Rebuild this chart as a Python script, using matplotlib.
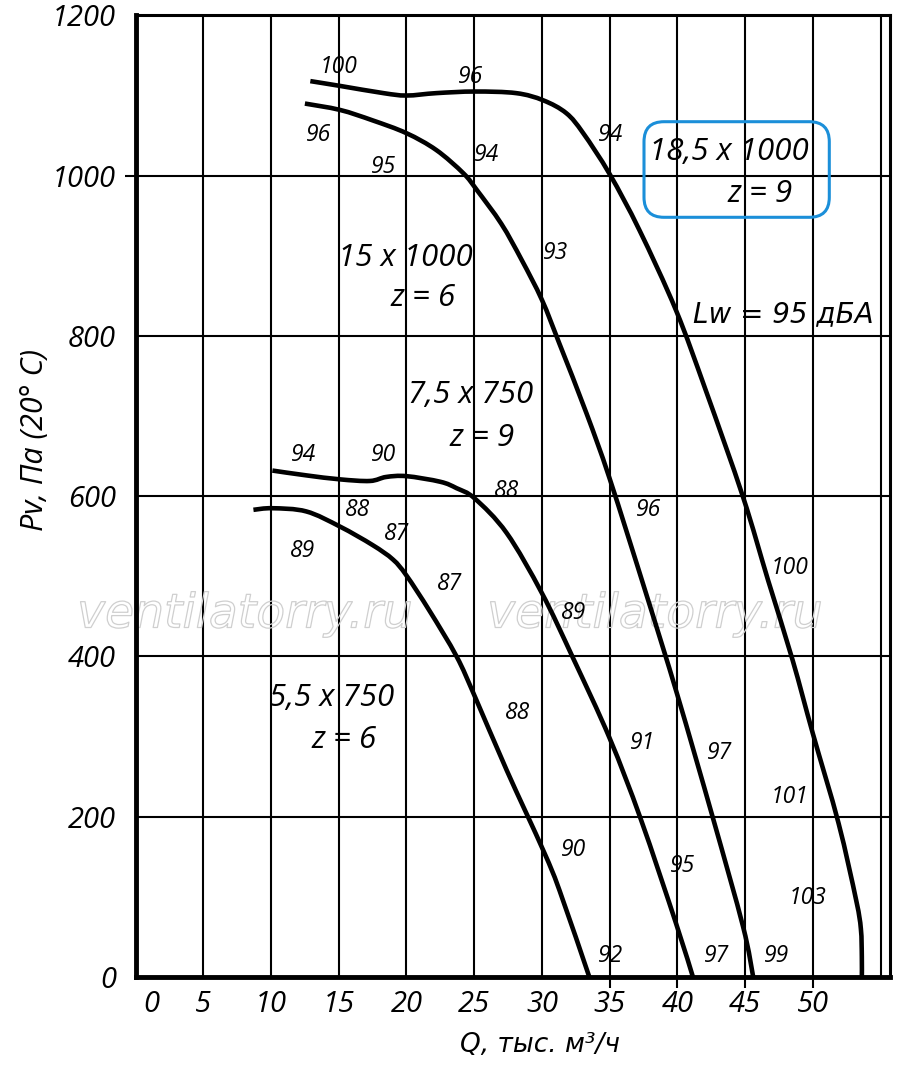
import matplotlib
matplotlib.use('Agg')
import matplotlib.pyplot as plt
import matplotlib.patheffects as pe
from matplotlib.patches import FancyBboxPatch, PathPatch
from matplotlib.path import Path
from matplotlib.transforms import ScaledTranslation

# fan curves: Q (thousand m3/h) vs Pv (Pa)
q_185 = [12.9, 15.1, 18.3, 20.0, 22.2, 25.05, 28.1, 30.1, 31.8, 33.05, 35.0, 37.2, 39.9,
         42.1, 44.85, 46.7, 48.5, 50.0, 51.9, 53.2, 53.55, 53.62, 53.62]
p_185 = [1118, 1112, 1103, 1100, 1103, 1105, 1103, 1094, 1078, 1053, 1002, 932, 832,
         732, 599, 495, 396, 304, 192, 96, 60, 25, 0]

q_15 = [12.5, 15.1, 17.5, 20.0, 22.2, 24.2, 25.2, 27.0, 28.5, 30.0, 31.3, 33.3, 35.0,
        37.7, 40.0, 42.6, 44.85, 45.6]
p_15 = [1090, 1082, 1069, 1053, 1032, 1003, 982, 940, 895, 845, 790, 703, 622,
        478, 352, 200, 63, 0]

q_75 = [10.1, 12.6, 15.1, 17.3, 18.5, 20.0, 22.5, 23.7, 25.05, 27.4, 30.0, 32.3, 35.0,
        37.3, 39.9, 41.15]
p_75 = [632, 626, 621, 619, 624, 625, 618, 610, 597, 554, 479, 398, 298,
        197, 67, 0]

q_55 = [8.7, 10.1, 12.6, 15.1, 17.5, 19.0, 20.0, 21.7, 23.7, 25.05, 27.4, 30.1,
        31.3, 33.5]
p_55 = [583, 585, 581, 562, 539, 521, 501, 457, 400, 350, 258, 158,
        108, 0]

# small noise level numbers along the curves
num_text = ['100', '96', '94', '96', '95', '94', '93', '94', '90', '88', '88', '87', '89',
            '87', '96', '100', '89', '88', '91', '97', '101', '90', '95', '103', '92', '97', '99']
num_q = [14.96, 24.7, 35.1, 13.5, 18.3, 25.9, 31.0, 12.4, 18.3, 27.4, 16.4, 19.3, 12.3,
         23.15, 37.9, 48.3, 32.35, 28.2, 37.4, 43.1, 48.3, 32.35, 40.4, 49.6, 35.1, 42.9, 47.3]
num_p = [1136, 1123, 1051, 1051, 1011, 1026, 904, 651, 651, 606, 583, 553, 531,
         490, 583, 510, 454, 329, 292, 280, 225, 159, 138, 98, 26, 26, 26]

# curve names
name_text = ['18,5 x 1000', 'z = 9', '15 x 1000', 'z = 6', '7,5 x 750', 'z = 9',
             '5,5 x 750', 'z = 6']
name_q = [43.8, 46.1, 19.95, 21.2, 24.7, 25.6, 14.5, 15.4]
name_p = [1029, 977, 897, 847, 726, 673, 348, 296]

x_ticks = [0, 5, 10, 15, 20, 25, 30, 35, 40, 45, 50, 55]
x_labels = ['0', '5', '10', '15', '20', '25', '30', '35', '40', '45', '50', '']
y_ticks = [0, 200, 400, 600, 800, 1000, 1200]

plt.rcParams['font.family'] = ['Open Sans', 'DejaVu Sans']
plt.rcParams['font.style'] = 'italic'


def smooth_curve(xs, ys):
    # Catmull-Rom style bezier through the read points
    pts = list(zip(xs, ys))
    n = len(pts)
    verts = [pts[0]]
    codes = [Path.MOVETO]
    for i in range(n - 1):
        p0 = pts[i - 1] if i > 0 else pts[i]
        p1 = pts[i]
        p2 = pts[i + 1]
        p3 = pts[i + 2] if i + 2 < n else pts[i + 1]
        c1 = (p1[0] + (p2[0] - p0[0]) / 6, p1[1] + (p2[1] - p0[1]) / 6)
        c2 = (p2[0] - (p3[0] - p1[0]) / 6, p2[1] - (p3[1] - p1[1]) / 6)
        verts += [c1, c2, p2]
        codes += [Path.CURVE4] * 3
    return Path(verts, codes)


fig = plt.figure(figsize=(9, 10.69), dpi=100)
ax = fig.add_axes([135.6 / 900, 1 - 977 / 1069, (890 - 135.6) / 900, (977 - 15.4) / 1069])
ax.set_xlim(0, 55.7)
ax.set_ylim(0, 1200)

ax.set_xticks(x_ticks)
ax.set_xticklabels(x_labels)
ax.set_yticks(y_ticks)
ax.grid(True, color='black', lw=1.5)
ax.tick_params(which='major', length=0, labelsize=21)
ax.tick_params(axis='x', pad=9)
ax.tick_params(axis='y', pad=14)

# small outward ticks
ax.xaxis.remove_overlapping_locs = False
ax.yaxis.remove_overlapping_locs = False
ax.set_xticks([35, 40, 45, 50], minor=True)
ax.set_yticks([1000], minor=True)
ax.tick_params(which='minor', length=8, width=1.5, direction='out')

lbl0 = ax.get_xticklabels()[0]
lbl0.set_transform(lbl0.get_transform() + ScaledTranslation(0.16, 0, fig.dpi_scale_trans))

for side in ['left', 'bottom']:
    ax.spines[side].set_linewidth(3.5)
for side in ['top', 'right']:
    ax.spines[side].set_linewidth(2.2)

# watermark
for wx in [245, 655]:
    ax.text(wx / 900, 1 - 615 / 1069, 'ventilatorry.ru', transform=fig.transFigure,
            ha='center', va='center', fontsize=34, family='Liberation Sans Narrow',
            style='italic', color='none', zorder=1.8,
            path_effects=[pe.withStroke(linewidth=0.9, foreground='#cfcfcf')])

for q, p in [(q_185, p_185), (q_15, p_15), (q_75, p_75), (q_55, p_55)]:
    ax.add_patch(PathPatch(smooth_curve(q, p), fill=False, ec='black', lw=3.3,
                           joinstyle='round', capstyle='butt', zorder=3))

for t, x, y in zip(num_text, num_q, num_p):
    ax.text(x, y, t, ha='center', va='center', fontsize=16.5, zorder=4)

for t, x, y in zip(name_text, name_q, name_p):
    ax.text(x, y, t, ha='center', va='center', fontsize=22.5, zorder=4)

ax.text(47.85, 827, 'Lw = 95 дБА', ha='center', va='center', fontsize=20,
        family='DejaVu Sans', zorder=4)

box = FancyBboxPatch((6.44, (1069 - 217.3) / 100), 1.853, 0.956,
                     boxstyle='round,pad=0,rounding_size=0.2',
                     transform=fig.dpi_scale_trans, fill=False,
                     ec='#1b8fd9', lw=2.2, zorder=5)
ax.add_patch(box)

fig.text(35 / 900, 1 - 440 / 1069, 'Pv, Па (20° C)', rotation=90, ha='center',
         va='center', fontsize=22)
fig.text(540 / 900, 1 - 1045 / 1069, 'Q, тыс. м³/ч', ha='center', va='center',
         fontsize=19, family='DejaVu Sans')

fig.savefig('out.png', dpi=100)
